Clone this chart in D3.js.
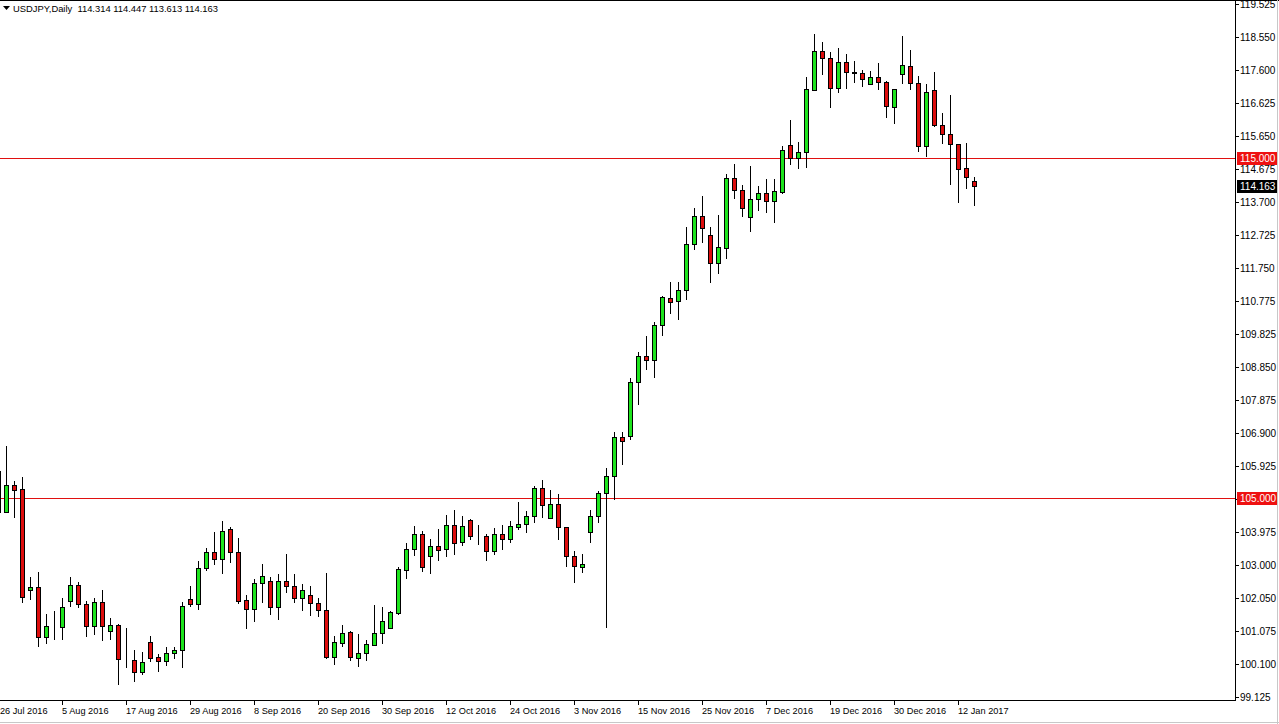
<!DOCTYPE html>
<html><head><meta charset="utf-8">
<script src="https://cdn.jsdelivr.net/npm/d3@7"></script>
<style>
html,body{margin:0;padding:0;background:#fff;overflow:hidden;}
svg{display:block;font-family:"Liberation Sans",Arial,sans-serif;}
</style></head><body>
<svg id="chart" width="1279" height="724"></svg>
<script>
// ---- data ----
const dates = [
"2016-07-26","2016-07-27","2016-07-28","2016-07-29",
"2016-08-01","2016-08-02","2016-08-03","2016-08-04","2016-08-05","2016-08-08","2016-08-09","2016-08-10","2016-08-11","2016-08-12",
"2016-08-15","2016-08-16","2016-08-17","2016-08-18","2016-08-19","2016-08-22","2016-08-23","2016-08-24","2016-08-25","2016-08-26",
"2016-08-29","2016-08-30","2016-08-31",
"2016-09-01","2016-09-02","2016-09-05","2016-09-06","2016-09-07","2016-09-08","2016-09-09","2016-09-12","2016-09-13","2016-09-14",
"2016-09-15","2016-09-16","2016-09-19","2016-09-20","2016-09-21","2016-09-22","2016-09-23","2016-09-26","2016-09-27","2016-09-28",
"2016-09-29","2016-09-30",
"2016-10-03","2016-10-04","2016-10-05","2016-10-06","2016-10-07","2016-10-10","2016-10-11","2016-10-12","2016-10-13","2016-10-14",
"2016-10-17","2016-10-18","2016-10-19","2016-10-20","2016-10-21","2016-10-24","2016-10-25","2016-10-26","2016-10-27","2016-10-28",
"2016-10-31",
"2016-11-01","2016-11-02","2016-11-03","2016-11-04","2016-11-07","2016-11-08","2016-11-09","2016-11-10","2016-11-11","2016-11-14",
"2016-11-15","2016-11-16","2016-11-17","2016-11-18","2016-11-21","2016-11-22","2016-11-23","2016-11-24","2016-11-25","2016-11-28",
"2016-11-29","2016-11-30",
"2016-12-01","2016-12-02","2016-12-05","2016-12-06","2016-12-07","2016-12-08","2016-12-09","2016-12-12","2016-12-13","2016-12-14",
"2016-12-15","2016-12-16","2016-12-19","2016-12-20","2016-12-21","2016-12-22","2016-12-23","2016-12-27","2016-12-28","2016-12-29",
"2016-12-30",
"2017-01-03","2017-01-04","2017-01-05","2017-01-06","2017-01-09","2017-01-10","2017-01-11","2017-01-12","2017-01-13","2017-01-16"
];
const open = [
105.78,104.58,105.37,105.24,
102.27,102.36,100.88,101.19,101.18,101.96,102.42,101.86,101.22,101.91,
101.08,101.24,100.25,100.21,99.85,100.74,100.29,100.19,100.41,100.50,
102.01,101.87,102.92,
103.39,103.20,104.06,103.39,101.97,101.71,102.47,102.54,101.78,102.54,
102.38,102.05,102.12,101.88,101.69,100.29,100.71,101.03,100.27,100.41,
100.65,101.00,
101.17,101.61,102.86,103.47,103.92,103.27,103.56,103.47,104.18,103.69,
104.34,103.86,103.86,103.42,103.92,103.79,104.14,104.21,104.45,105.27,
104.39,
104.81,104.12,103.27,102.96,103.99,104.45,105.12,105.62,106.77,106.82,
108.39,109.16,109.04,110.07,110.88,110.78,111.10,112.46,113.28,112.72,
111.90,112.36,
114.40,114.05,113.25,113.78,113.96,113.72,114.01,115.37,115.00,115.17,
117.01,118.14,117.94,117.05,117.82,117.52,117.49,117.17,117.38,117.23,
116.49,
117.47,117.70,117.20,115.34,116.99,115.98,115.72,115.40,114.70,114.314
];
const high = [
105.80,106.52,105.49,105.60,
102.66,102.80,101.57,101.66,102.04,102.66,102.50,101.94,102.03,102.28,
101.44,101.27,101.15,100.51,100.44,100.93,100.39,100.60,100.59,101.91,
102.39,103.13,103.50,
103.97,104.31,104.12,103.80,102.13,102.59,103.04,102.65,102.75,103.34,
102.75,102.45,102.39,102.03,102.79,100.92,101.24,101.07,100.97,100.80,
101.83,101.77,
101.66,102.95,103.66,104.16,104.01,103.78,104.07,104.48,104.62,104.46,
104.37,104.18,103.93,104.09,104.18,104.31,104.87,104.59,105.34,105.51,
105.21,
105.10,104.14,103.42,103.34,104.62,105.18,105.86,106.92,106.92,108.51,
109.29,109.75,110.16,110.93,111.35,111.35,112.97,113.52,113.88,112.96,
113.31,114.53,
114.82,114.20,114.76,114.17,114.38,114.38,115.35,116.12,115.46,117.38,
118.64,118.41,118.12,118.23,118.07,117.85,117.59,117.57,117.79,117.26,
117.03,
118.59,118.18,117.42,117.17,117.52,116.32,116.85,115.41,115.43,114.447
];
const low = [
104.55,104.57,104.43,101.93,
102.00,100.63,100.72,100.84,100.84,101.81,101.77,100.93,100.99,100.81,
100.83,99.51,100.02,99.60,99.80,100.19,99.90,100.07,100.27,100.02,
101.81,101.72,102.86,
103.03,102.77,103.11,101.90,101.17,101.37,101.93,101.56,101.41,102.23,
101.91,101.69,101.54,101.52,100.26,100.09,100.63,100.22,100.05,100.21,
100.65,100.72,
101.15,101.56,102.64,103.31,102.83,102.79,103.16,103.28,103.33,103.59,
103.77,103.64,103.15,103.33,103.49,103.69,104.08,103.98,104.27,104.43,
104.39,
103.77,102.99,102.52,102.81,103.70,104.27,101.18,104.95,106.00,106.71,
107.75,108.78,108.54,109.78,110.43,110.25,110.84,112.33,112.53,111.34,
111.60,112.05,
113.81,113.30,112.84,113.47,113.40,113.11,113.97,114.83,114.71,114.74,
116.99,117.47,116.51,116.95,117.07,117.25,117.13,117.17,117.02,116.20,
116.02,
117.20,117.02,115.21,115.05,115.93,115.45,114.23,113.71,114.13,113.613
];
const close = [
104.57,105.37,105.23,102.06,
102.36,100.88,101.21,101.20,101.77,102.42,101.85,101.22,101.91,101.22,
101.24,100.25,100.24,99.85,100.15,100.28,100.19,100.41,100.51,101.80,
101.87,102.91,103.40,
103.20,104.00,103.39,101.96,101.71,102.47,102.68,101.78,102.54,102.38,
102.05,102.28,101.88,101.68,100.29,100.74,101.00,100.29,100.41,100.68,
101.00,101.35,
101.62,102.89,103.47,103.92,102.94,103.56,103.44,104.18,103.65,104.15,
103.86,103.855,103.42,103.92,103.79,104.15,104.22,104.45,105.27,104.77,
104.81,
104.12,103.27,102.97,103.03,104.45,105.12,105.63,106.77,106.66,108.39,
109.16,109.04,110.07,110.90,110.75,111.10,112.46,113.28,112.93,111.90,
112.37,114.40,
114.05,113.52,113.78,113.96,113.72,114.02,115.24,115.00,115.17,117.02,
118.14,117.94,117.05,117.82,117.52,117.50,117.32,117.38,117.23,116.52,
117.02,
117.74,117.20,115.34,116.94,115.98,115.72,115.40,114.68,114.45,114.163
];
const yTickLabels = ["119.525","118.550","117.600","116.625","115.650","114.675","113.700","112.725","111.750","110.775",
  "109.825","108.850","107.875","106.900","105.925","104.950","103.975","103.000","102.050","101.075","100.100","99.125"];
const xTickDates = ["2016-07-26","2016-08-05","2016-08-17","2016-08-29","2016-09-08","2016-09-20","2016-09-30","2016-10-12",
  "2016-10-24","2016-11-03","2016-11-15","2016-11-25","2016-12-07","2016-12-19","2016-12-30","2017-01-12"];
const xTickLabels = ["26 Jul 2016","5 Aug 2016","17 Aug 2016","29 Aug 2016","8 Sep 2016","20 Sep 2016","30 Sep 2016","12 Oct 2016",
  "24 Oct 2016","3 Nov 2016","15 Nov 2016","25 Nov 2016","7 Dec 2016","19 Dec 2016","30 Dec 2016","12 Jan 2017"];
const levelLines = [115.000, 105.000];
const lastPrice = 114.163;
const symbolText = "USDJPY,Daily";

// ---- layout ----
const W = 1279, H = 724;
const axisX = 1235, axisY = 700;
const bull = "#1ee41e", bear = "#dd0d0d", lineRed = "#e01010";

const svg = d3.select("#chart").attr("shape-rendering","crispEdges");
const x = d3.scalePoint().domain(dates).range([-2, 974]);
const y = d3.scaleLinear().domain([99.125, 119.525]).range([696.96, 4.38]);
const px = v => Math.round(v);

const bars = dates.map((d,i)=>({d, o:open[i], h:high[i], l:low[i], c:close[i]}));

const plot = svg.append("g");
svg.append("defs").append("clipPath").attr("id","pc").append("rect")
  .attr("x",0).attr("y",0).attr("width",axisX).attr("height",axisY);
plot.attr("clip-path","url(#pc)");

// level lines
plot.selectAll("line.lvl").data(levelLines).join("line")
  .attr("x1",0).attr("x2",axisX)
  .attr("y1",d=>px(y(d))+0.5).attr("y2",d=>px(y(d))+0.5)
  .attr("stroke",lineRed).attr("stroke-width",1);

// wicks
plot.selectAll("line.wick").data(bars).join("line")
  .attr("x1",b=>px(x(b.d))+0.5).attr("x2",b=>px(x(b.d))+0.5)
  .attr("y1",b=>px(y(b.h))).attr("y2",b=>px(y(b.l))+1)
  .attr("stroke","#000").attr("stroke-width",1);

// bodies
plot.selectAll("rect.body").data(bars).join("rect")
  .attr("x",b=>px(x(b.d))-2+0.5)
  .attr("y",b=>px(y(Math.max(b.o,b.c)))+0.5)
  .attr("width",4)
  .attr("height",b=>Math.max(0, px(y(Math.min(b.o,b.c)))-px(y(Math.max(b.o,b.c)))))
  .attr("fill",b=>b.c>=b.o?bull:bear)
  .attr("stroke","#000").attr("stroke-width",1);

// frame
svg.append("line").attr("x1",0).attr("x2",W).attr("y1",0.5).attr("y2",0.5).attr("stroke","#000");
svg.append("line").attr("x1",axisX+0.5).attr("x2",axisX+0.5).attr("y1",0).attr("y2",axisY+1).attr("stroke","#000");
svg.append("line").attr("x1",0).attr("x2",axisX+1).attr("y1",axisY+0.5).attr("y2",axisY+0.5).attr("stroke","#000");
svg.append("line").attr("x1",0).attr("x2",W).attr("y1",H-1.5).attr("y2",H-1.5).attr("stroke","#c8c8c8");
svg.append("line").attr("x1",W-1.5).attr("x2",W-1.5).attr("y1",0).attr("y2",H).attr("stroke","#c8c8c8");

// y axis ticks & labels
const yt = svg.append("g");
yt.selectAll("line").data(yTickLabels).join("line")
  .attr("x1",axisX+1).attr("x2",axisX+4)
  .attr("y1",d=>px(y(+d))+0.5).attr("y2",d=>px(y(+d))+0.5).attr("stroke","#000");
yt.selectAll("text").data(yTickLabels).join("text")
  .attr("x",axisX+5).attr("y",d=>px(y(+d))+4)
  .attr("font-size",10).attr("fill","#000").text(d=>d);

// price boxes
const boxes = [
  ...levelLines.map(v=>({v, fill:"#ee1111", label:v.toFixed(3)})),
  {v:lastPrice, fill:"#000", label:lastPrice.toFixed(3)}
];
const bg = svg.append("g");
bg.selectAll("rect").data(boxes).join("rect")
  .attr("x",axisX+2).attr("y",d=>px(y(d.v))-6).attr("width",W-axisX-4).attr("height",13)
  .attr("fill",d=>d.fill);
bg.selectAll("text").data(boxes).join("text")
  .attr("x",axisX+5).attr("y",d=>px(y(d.v))+4)
  .attr("font-size",10).attr("fill","#fff").text(d=>d.label);

// x axis ticks & labels
const xt = svg.append("g");
xt.selectAll("line").data(xTickDates).join("line")
  .attr("x1",d=>px(x(d))+0.5).attr("x2",d=>px(x(d))+0.5)
  .attr("y1",axisY+1).attr("y2",axisY+5).attr("stroke","#000");
xt.selectAll("text").data(xTickLabels).join("text")
  .attr("x",(d,i)=>Math.max(0, px(x(xTickDates[i])))).attr("y",axisY+14)
  .attr("font-size",9.2).attr("fill","#000").text(d=>d);

// header
svg.append("path").attr("d","M3,6 L10,6 L6.5,10 Z").attr("fill","#000").attr("shape-rendering","auto");
const last = bars[bars.length-1];
svg.append("text").attr("x",13).attr("y",12).attr("font-size",9.4).attr("fill","#000")
  .style("white-space","pre")
  .text(`${symbolText}  ${last.o.toFixed(3)} ${last.h.toFixed(3)} ${last.l.toFixed(3)} ${last.c.toFixed(3)}`);
</script>
</body></html>
